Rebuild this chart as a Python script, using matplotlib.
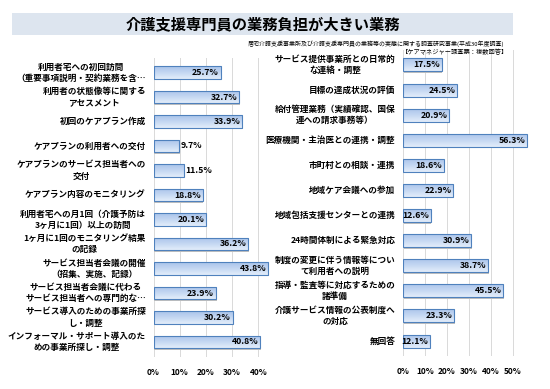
import matplotlib
matplotlib.use("Agg")
import matplotlib.pyplot as plt
import numpy as np
from matplotlib.patches import Rectangle

plt.rcParams['font.family'] = ['Noto Sans CJK JP', 'DejaVu Sans']

title = "介護支援専門員の業務負担が大きい業務"
source_line1 = "居宅介護支援事業所及び介護支援専門員の業務等の実態に関する調査研究事業(平成30年度調査)"
source_line2 = "【ケアマネジャー調査票：複数回答】"

left_labels = [
    "利用者宅への初回訪問\n（重要事項説明・契約業務を含…",
    "利用者の状態像等に関する\nアセスメント",
    "初回のケアプラン作成",
    "ケアプランの利用者への交付",
    "ケアプランのサービス担当者への\n交付",
    "ケアプラン内容のモニタリング",
    "利用者宅への月1回（介護予防は\n3ヶ月に1回）以上の訪問",
    "1ヶ月に1回のモニタリング結果\nの記録",
    "サービス担当者会議の開催\n（招集、実施、記録）",
    "サービス担当者会議に代わる\nサービス担当者への専門的な…",
    "サービス導入のための事業所探\nし・調整",
    "インフォーマル・サポート導入のた\nめの事業所探し・調整",
]
left_values = [25.7, 32.7, 33.9, 9.7, 11.5, 18.8, 20.1, 36.2, 43.8, 23.9, 30.2, 40.8]

right_labels = [
    "サービス提供事業所との日常的\nな連絡・調整",
    "目標の達成状況の評価",
    "給付管理業務（実績確認、国保\n連への請求事務等）",
    "医療機関・主治医との連携・調整",
    "市町村との相談・連携",
    "地域ケア会議への参加",
    "地域包括支援センターとの連携",
    "24時間体制による緊急対応",
    "制度の変更に伴う情報等につい\nて利用者への説明",
    "指導・監査等に対応するための\n諸準備",
    "介護サービス情報の公表制度へ\nの対応",
    "無回答",
]
right_values = [17.5, 24.5, 20.9, 56.3, 18.6, 22.9, 12.6, 30.9, 38.7, 45.5, 23.3, 12.1]

left_ticks = [0, 10, 20, 30, 40]
right_ticks = [0, 10, 20, 30, 40, 50]

W, H = 550, 389
fig = plt.figure(figsize=(W / 100, H / 100), dpi=100)

# title band
fig.patches.append(Rectangle((12 / W, 1 - 35 / H), 501 / W, 22 / H,
                             transform=fig.transFigure, facecolor="#dde5ef",
                             edgecolor="none", zorder=0))
fig.text(263 / W, 1 - 24 / H, title, ha="center", va="center",
         fontsize=11, fontweight="bold")
fig.text(504 / W, 1 - 43.5 / H, source_line1, ha="right", va="center", fontsize=4.3)
fig.text(508 / W, 1 - 52 / H, source_line2, ha="right", va="center", fontsize=4.5)

grad = np.linspace(0, 1, 32).reshape(-1, 1)
cmap = matplotlib.colors.LinearSegmentedColormap.from_list(
    "bar", ["#e3edfa", "#c4d7f2", "#a9c3ea"])


def draw_panel(rect, labels, values, ticks, xmax, height, outside_below):
    ax = fig.add_axes(rect)
    n = len(values)
    y = np.arange(n)
    for t in ticks:
        ax.axvline(t, color="#d9d9d9", lw=0.7, zorder=0)
    # shadow
    ax.barh(y + 0.06, values, height=height, left=0.25, color="#bfbfbf",
            edgecolor="none", zorder=1)
    bars = ax.barh(y, values, height=height, color="none",
                   edgecolor="#4f81bd", lw=0.8, zorder=3)
    for b, v in zip(bars, values):
        x0, y0 = b.get_x(), b.get_y()
        im = ax.imshow(grad, extent=[x0, x0 + v, y0, y0 + b.get_height()],
                       aspect="auto", cmap=cmap, zorder=2, origin="upper")
        im.set_clip_path(b)
    ax.set_ylim(n - 0.4, -0.6)
    ax.set_xlim(0, xmax)
    for yi, v in zip(y, values):
        if v < outside_below:
            ax.text(v + 0.5, yi, f"{v:.1f}%", ha="left", va="center",
                    fontsize=6.3, fontweight="bold", zorder=4)
        else:
            ax.text(v - 0.8, yi, f"{v:.1f}%", ha="right", va="center",
                    fontsize=6.3, fontweight="bold", zorder=4)
    # category labels: block right-aligned, lines centred (Excel style)
    ax.set_yticks([])
    for yi, lab in zip(y, labels):
        ax.annotate(lab, xy=(0, yi), xycoords=("axes fraction", "data"),
                    xytext=(-5.5, 0), textcoords="offset points",
                    ha="right", va="center", multialignment="center",
                    fontsize=6.2, fontweight="bold", linespacing=1.3)
    ax.set_xticks(ticks)
    ax.set_xticklabels([f"{t}%" for t in ticks], fontsize=6, fontweight="bold")
    ax.tick_params(length=0, pad=8)
    for s in ax.spines.values():
        s.set_visible(False)
    return ax


# left panel: 0% at x=153.5, 26.2 px per 10%, rows 24.5 px apart
lx0, lsc = 153.5, 2.62
lxmax = 45
draw_panel([lx0 / W, 1 - 356.7 / H, lxmax * lsc / W, 298.9 / H],
           left_labels, left_values, left_ticks, lxmax, 0.53, 12)

# right panel: 0% at x=403, 22 px per 10%, rows 25.1 px apart
rx0, rsc = 403, 2.2
rxmax = 58
draw_panel([rx0 / W, 1 - 356.1 / H, rxmax * rsc / W, 306.2 / H],
           right_labels, right_values, right_ticks, rxmax, 0.52, 0)

fig.savefig("out.png", dpi=100)
